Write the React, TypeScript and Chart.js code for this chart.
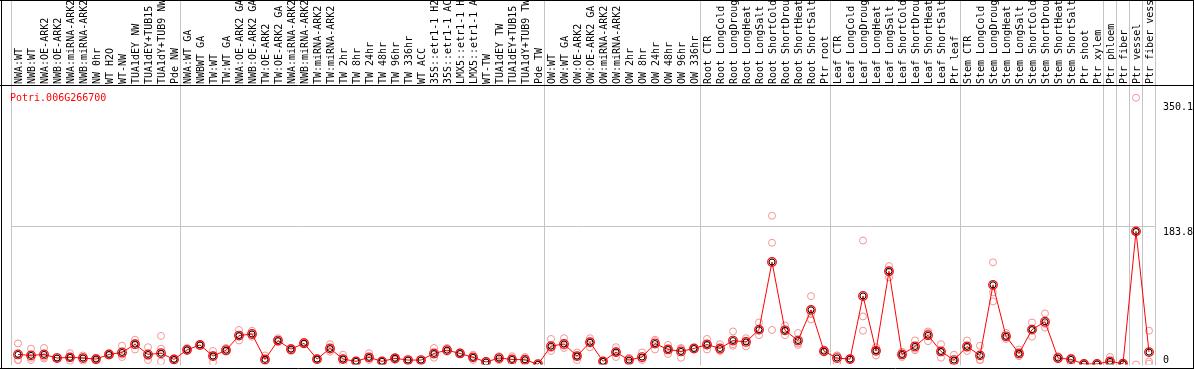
import React, { useEffect, useRef } from "react";
import { Chart, registerables } from "chart.js";

Chart.register(...registerables);

const geneId = "Potri.006G266700";

const categories = [
  "NWA:WT", "NWB:WT", "NWA:OE-ARK2", "NWB:OE-ARK2", "NWA:miRNA-ARK2", "NWB:miRNA-ARK2",
  "NW 0hr", "WT H2O", "WT-NW", "TUA1dEY NW", "TUA1dEY+TUB15 NW", "TUA1dY+TUB9 NW", "Pde NW",
  "NWA:WT GA", "NWBWT GA", "TW:WT", "TW:WT GA", "NWA:OE-ARK2 GA", "NWB:OE-ARK2 GA",
  "TW:OE-ARK2", "TW:OE-ARK2 GA", "NWA:miRNA-ARK2 GA", "NWB:miRNA-ARK2 GA", "TW:miRNA-ARK2",
  "TW:miRNA-ARK2 GA", "TW 2hr", "TW 8hr", "TW 24hr", "TW 48hr", "TW 96hr", "TW 336hr",
  "WT ACC", "35S::etr1-1 H2O", "35S::etr1-1 ACC", "LMX5::etr1-1 H2O", "LMX5::etr1-1 ACC",
  "WT-TW", "TUA1dEY TW", "TUA1dEY+TUB15 TW", "TUA1dY+TUB9 TW", "Pde TW",
  "OW:WT", "OW:WT GA", "OW:OE-ARK2", "OW:OE-ARK2 GA", "OW:miRNA-ARK2", "OW:miRNA-ARK2 GA",
  "OW 2hr", "OW 8hr", "OW 24hr", "OW 48hr", "OW 96hr", "OW 336hr",
  "Root CTR", "Root LongCold", "Root LongDrought", "Root LongHeat", "Root LongSalt",
  "Root ShortCold", "Root ShortDrought", "Root ShortHeat", "Root ShortSalt", "Ptr root",
  "Leaf CTR", "Leaf LongCold", "Leaf LongDrought", "Leaf LongHeat", "Leaf LongSalt",
  "Leaf ShortCold", "Leaf ShortDrought", "Leaf ShortHeat", "Leaf ShortSalt", "Ptr leaf",
  "Stem CTR", "Stem LongCold", "Stem LongDrought", "Stem LongHeat", "Stem LongSalt",
  "Stem ShortCold", "Stem ShortDrought", "Stem ShortHeat", "Stem ShortSalt", "Ptr shoot",
  "Ptr xylem", "Ptr phloem", "Ptr fiber", "Ptr vessel", "Ptr fiber vessel",
];

const meanValues = [
  13.4, 12.1, 13.4, 8.6, 9.5, 8.6, 7.2, 13.4, 16, 27, 13.4, 15, 6.8,
  19.5, 26, 11.2, 19, 38.5, 40.6, 6.8, 31.9, 20.4, 28.3, 7.2, 21.3, 7.2, 4.2, 9.5, 4.2, 8.2,
  5.9, 5.9, 14.7, 19.1, 14.7, 9.5, 3.3, 8.6, 6.8, 6.3, 0.3,
  24.4, 27.4, 11.2, 29.6, 4.2, 16.5, 5.9, 9.9, 27.9, 20, 17.4, 21.3,
  26.6, 21.3, 31.9, 30, 46.4, 136.4, 45.5, 31.9, 72.7, 17.8,
  8.6, 7.2, 91.2, 18.2, 124.1, 13.4, 24, 38.9, 17.4, 5.9,
  24, 12.1, 106, 37.5, 14.7, 46.4, 56.9, 8.6, 6.8, 0.7,
  0.7, 4.2, 1, 177.2, 16.5,
];

const replicate1 = [
  28, 21, 22, 8, 15, 12, 7, 15, 25, 33, 23, 38, 7,
  22, 27, 18, 22, 46, 45, 12, 35, 22, 30, 7, 27, 13, 4, 15, 4, 10,
  6, 6, 22, 22, 16, 13, 3, 11, 11, 10, 0,
  34, 35, 16, 35, 4, 23, 9, 16, 33, 26, 21, 22,
  34, 27, 44, 35, 56, 198, 52, 42, 91, 20,
  12, 7, 165, 23, 131, 17, 32, 44, 27, 13,
  32, 25, 136, 42, 20, 56, 68, 11, 9, 1,
  1, 10, 1, 355, 45,
];

const replicate2 = [
  6, 6, 8, 10, 5, 5, 5, 12, 10, 20, 6, 21, 5,
  18, 26, 3, 17, 32, 40, 5, 30, 18, 28, 8, 17, 1, 5, 6, 5, 6,
  6, 6, 9, 18, 14, 6, 4, 6, 2, 3, 0,
  18, 22, 6, 23, 5, 10, 3, 6, 20, 14, 9, 21,
  20, 19, 25, 24, 39, 162, 39, 26, 60, 16,
  2, 8, 64, 12, 116, 10, 19, 31, 9, 1,
  18, 6, 96, 34, 13, 37, 49, 8, 2, 0,
  0, 2, 0, 0, 1,
];

const replicate3 = [
  6, 9, 10, 8, 9, 9, 9, 13, 13, 28, 11, 4, 8,
  19, 25, 12, 18, 38, 37, 4, 31, 21, 27, 6, 20, 7, 4, 8, 4, 8,
  5, 5, 13, 17, 14, 9, 3, 8, 7, 6, 1,
  22, 25, 11, 30, 4, 16, 5, 8, 31, 20, 22, 21,
  26, 18, 27, 31, 45, 46, 46, 28, 67, 17,
  12, 6, 45, 19, 125, 13, 21, 42, 16, 4,
  22, 6, 84, 37, 11, 46, 54, 7, 9, 1,
  1, 1, 2, 176, 4,
];

const yTickValues = [0, 183.8, 350.1];
const yTickLabels = ["0", "183.8", "350.1"];
const groupBoundaries = [0, 13, 41, 53, 63, 73, 84, 85, 86, 87, 88];

const FONT = '10px "DejaVu Sans Mono", monospace';

export default function App() {
  const ref = useRef<HTMLCanvasElement | null>(null);

  useEffect(() => {
    document.body.style.margin = "0";
    const canvas = ref.current;
    if (!canvas) return;

    const efpPlugin = {
      id: "efpFrame",
      beforeDatasetsDraw(chart: any) {
        const ctx = chart.ctx as CanvasRenderingContext2D;
        const xs = chart.scales.x;
        const ys = chart.scales.y;
        const area = chart.chartArea;
        const step = xs.getPixelForValue(1) - xs.getPixelForValue(0);
        const x0 = xs.getPixelForValue(0) - step / 2;
        ctx.save();
        ctx.strokeStyle = "#c4c4c4";
        ctx.lineWidth = 1;
        ctx.beginPath();
        groupBoundaries.forEach((b) => {
          const px = x0 + b * step;
          ctx.moveTo(px, 0);
          ctx.lineTo(px, area.bottom + 1);
        });
        const gy = Math.round(ys.getPixelForValue(yTickValues[1])) + 0.5;
        ctx.moveTo(x0, gy);
        ctx.lineTo(x0 + categories.length * step, gy);
        ctx.stroke();

        ctx.fillStyle = "#000";
        ctx.font = FONT;
        ctx.textAlign = "left";
        ctx.textBaseline = "alphabetic";
        categories.forEach((c, i) => {
          const px = xs.getPixelForValue(i);
          ctx.save();
          ctx.translate(px + 3.5, area.top - 1);
          ctx.rotate(-Math.PI / 2);
          ctx.fillText(c, 0, 0);
          ctx.restore();
        });

        yTickValues.forEach((v, i) => {
          const py = ys.getPixelForValue(v);
          const base = v === 0 ? py - 1.5 : py + 8.5;
          ctx.fillText(yTickLabels[i], 1163, base);
        });

        ctx.fillStyle = "#ff0000";
        ctx.fillText(geneId, 10, 101);
        ctx.restore();
      },
      afterDraw(chart: any) {
        const ctx = chart.ctx as CanvasRenderingContext2D;
        const W = chart.width;
        ctx.save();
        ctx.strokeStyle = "#000";
        ctx.lineWidth = 1;
        ctx.beginPath();
        ctx.moveTo(0, 0.5);
        ctx.lineTo(W, 0.5);
        ctx.moveTo(0, 85.5);
        ctx.lineTo(W, 85.5);
        ctx.moveTo(0, 368.5);
        ctx.lineTo(W, 368.5);
        ctx.moveTo(1.5, 0);
        ctx.lineTo(1.5, 369);
        ctx.moveTo(W - 0.5, 0);
        ctx.lineTo(W - 0.5, 369);
        ctx.stroke();
        ctx.restore();
      },
    };

    const repStyle = {
      type: "line" as const,
      showLine: false,
      pointRadius: 3.5,
      pointBorderWidth: 1,
      pointBorderColor: "rgb(240,150,150)",
      pointBackgroundColor: "rgba(0,0,0,0)",
    };

    const chart = new Chart(canvas, {
      type: "line",
      data: {
        labels: categories,
        datasets: [
          {
            label: "mean-inner",
            data: meanValues,
            showLine: false,
            pointRadius: 3,
            pointBorderWidth: 1,
            pointBorderColor: "#000000",
            pointBackgroundColor: "rgba(0,0,0,0)",
            order: 0,
          },
          {
            label: "mean",
            data: meanValues,
            borderColor: "#ff0000",
            borderWidth: 1,
            tension: 0,
            pointRadius: 4.3,
            pointBorderWidth: 1.2,
            pointBorderColor: "#ff0000",
            pointBackgroundColor: "rgba(0,0,0,0)",
            order: 1,
          },
          { ...repStyle, label: "rep1", data: replicate1, order: 2 },
          { ...repStyle, label: "rep2", data: replicate2, order: 3 },
          { ...repStyle, label: "rep3", data: replicate3, order: 4 },
        ],
      },
      options: {
        animation: false,
        responsive: false,
        events: [],
        layout: { padding: { left: 11.5, right: 38.5, top: 85, bottom: 2.5 } },
        plugins: { legend: { display: false }, tooltip: { enabled: false } },
        scales: {
          x: { type: "category", offset: true, display: false },
          y: { type: "linear", min: 0, max: 372, display: false },
        },
      },
      plugins: [efpPlugin],
    });

    return () => chart.destroy();
  }, []);

  return (
    <canvas
      ref={ref}
      width={1194}
      height={370}
      style={{ display: "block", width: 1194, height: 370, background: "#fff" }}
    />
  );
}
